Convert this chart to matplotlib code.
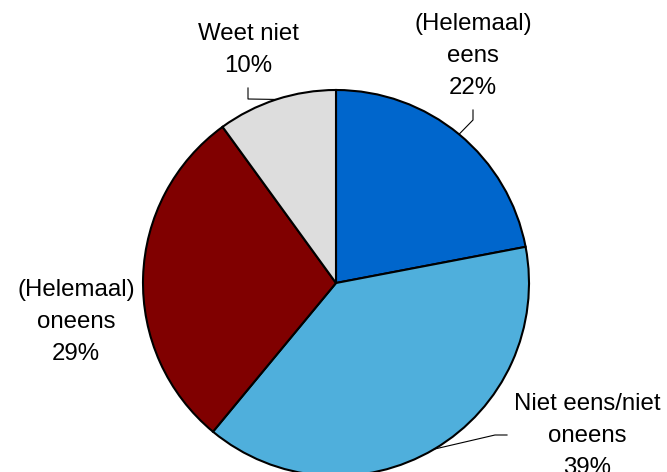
import numpy as np
import matplotlib
matplotlib.use("Agg")
import matplotlib.pyplot as plt

labels = ["(Helemaal)\neens", "Niet eens/niet\noneens", "(Helemaal)\noneens", "Weet niet"]
values = [22, 39, 29, 10]
colors = ["#0066CC", "#4FAFDC", "#800000", "#DDDDDD"]

plt.rcParams['font.family'] = ['Liberation Sans', 'DejaVu Sans']

fig = plt.figure(figsize=(6.67, 4.72), dpi=100)
ax = fig.add_axes([0, 0, 1, 1])

cx, cy, r = 336, 472 - 283, 193
wedges, _ = ax.pie(values, colors=colors, startangle=90, counterclock=False,
                   center=(cx, cy), radius=r, frame=True,
                   wedgeprops=dict(edgecolor='black', linewidth=1.5))
ax.set_xlim(0, 667)
ax.set_ylim(0, 472)
ax.set_aspect('equal')
ax.axis('off')

# label block centres (pixels, y from top) and leader bends
label_pos = [(473, 56), (587, 436), (76, 322), (248, 50)]
leaders = [
    [(473, 120), (473, 110)],
    [(495, 435), (507, 435)],
    None,
    [(248, 99), (248, 88)],
]

for w, lab, v, pos, ld in zip(wedges, labels, values, label_pos, leaders):
    ax.text(pos[0], 472 - pos[1], f"{lab}\n{v}%", ha='center', va='center',
            fontsize=17.3, linespacing=1.58, color='black')
    if ld is None:
        continue
    mid = np.deg2rad((w.theta1 + w.theta2) / 2)
    xs = [cx + r * np.cos(mid)] + [p[0] for p in ld]
    ys = [cy + r * np.sin(mid)] + [472 - p[1] for p in ld]
    ax.plot(xs, ys, color='black', linewidth=0.8)

fig.savefig("out.png", dpi=100)
